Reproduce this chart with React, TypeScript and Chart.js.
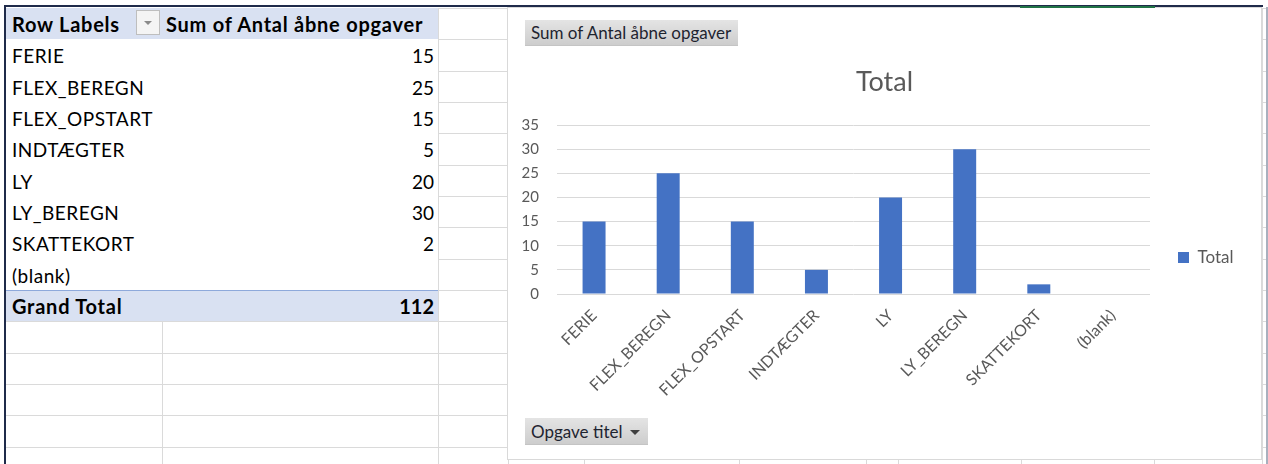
import React, { useEffect, useRef } from "react";
import { Chart, registerables } from "chart.js";

Chart.register(...registerables);

// Pivot data: open tasks per task title
const categories = [
  "FERIE",
  "FLEX_BEREGN",
  "FLEX_OPSTART",
  "INDTÆGTER",
  "LY",
  "LY_BEREGN",
  "SKATTEKORT",
  "(blank)",
];
const openTasks: (number | null)[] = [15, 25, 15, 5, 20, 30, 2, null];
const yTickValues = [0, 5, 10, 15, 20, 25, 30, 35];

const seriesName = "Total";
const chartTitle = "Total";
const valueFieldName = "Sum of Antal åbne opgaver";
const rowFieldName = "Opgave titel";
const rowLabelsHeader = "Row Labels";
const grandTotalLabel = "Grand Total";

const FONT = "Lato, 'Open Sans', sans-serif";
const AXIS_TEXT = "#595959";
const GRID = "#D9D9D9";
const BAR = "#4472C4";
const PIVOT_BLUE = "#D9E1F2";
const SHEET_LINE = "#DADADA";

// Sheet geometry
const ROW_H = 31.33;
const rowY = (i: number) => Math.round(8 + i * ROW_H);
const colLines = [162, 438, 508, 584, 739, 866, 898, 1021, 1154, 1262];

// Chart canvas geometry
const CANVAS_W = 753;
const CANVAS_H = 451;
const PLOT_LEFT = 49;
const PLOT_RIGHT = 642;
const X_AXIS_H = 165;
const LEGEND_FONT = 17;
const LEGEND_BOX = 11;
const LEGEND_PAD = 28;
const TITLE_SIZE = 27;

// Centre the chart title over the whole chart object rather than the area left of the legend
const fullWidthTitle = {
  id: "fullWidthTitle",
  afterLayout(chart: any) {
    const t = chart.titleBlock;
    if (t) {
      t.left = 0;
      t.right = chart.width;
      t.width = chart.width;
    }
  },
};

function BarChart() {
  const ref = useRef<HTMLCanvasElement | null>(null);

  useEffect(() => {
    const canvas = ref.current;
    if (!canvas) return;
    const ctx = canvas.getContext("2d")!;
    ctx.font = `${LEGEND_FONT}px ${FONT}`;
    const legendTextW = ctx.measureText(seriesName).width;
    const legendW = LEGEND_PAD + LEGEND_BOX + LEGEND_FONT / 2 + legendTextW + 10;
    const padRight = Math.max(0, CANVAS_W - PLOT_RIGHT - legendW);

    const chart = new Chart(canvas, {
      type: "bar",
      data: {
        labels: categories,
        datasets: [
          {
            label: seriesName,
            data: openTasks,
            backgroundColor: BAR,
            borderWidth: 0,
            barPercentage: 0.31,
            categoryPercentage: 1,
          },
        ],
      },
      options: {
        animation: false,
        responsive: false,
        maintainAspectRatio: false,
        devicePixelRatio: 1,
        layout: { padding: { left: 0, right: padRight, top: 0, bottom: 0 } },
        plugins: {
          title: {
            display: true,
            text: chartTitle,
            color: AXIS_TEXT,
            font: { family: FONT, size: TITLE_SIZE, weight: "normal" },
            padding: { top: 58, bottom: 26.6 },
          },
          legend: {
            position: "right",
            align: "end",
            fullSize: false,
            labels: {
              boxWidth: LEGEND_BOX,
              boxHeight: LEGEND_BOX,
              padding: LEGEND_PAD,
              color: AXIS_TEXT,
              font: { family: FONT, size: LEGEND_FONT },
            },
          },
          tooltip: { enabled: false },
        },
        scales: {
          x: {
            grid: { display: false },
            border: { display: false },
            ticks: {
              autoSkip: false,
              minRotation: 45,
              maxRotation: 45,
              padding: 4,
              color: AXIS_TEXT,
              font: { family: FONT, size: 16 },
            },
            afterFit: (scale: any) => {
              scale.height = X_AXIS_H;
            },
          },
          y: {
            min: yTickValues[0],
            max: yTickValues[yTickValues.length - 1],
            ticks: {
              stepSize: yTickValues[1] - yTickValues[0],
              padding: 18,
              color: AXIS_TEXT,
              font: { family: FONT, size: 15 },
            },
            grid: { color: GRID, lineWidth: 1, drawTicks: false },
            border: { display: false },
            afterFit: (scale: any) => {
              scale.width = PLOT_LEFT;
            },
          },
        },
      },
      plugins: [fullWidthTitle],
    });
    return () => chart.destroy();
  }, []);

  return (
    <canvas
      ref={ref}
      width={CANVAS_W}
      height={CANVAS_H}
      style={{ position: "absolute", left: 0, top: 0, width: CANVAS_W, height: CANVAS_H }}
    />
  );
}

function GrayButton({
  left,
  top,
  width,
  height,
  text,
  dropdown,
}: {
  left: number;
  top: number;
  width: number;
  height: number;
  text: string;
  dropdown?: boolean;
}) {
  return (
    <div
      style={{
        position: "absolute",
        left,
        top,
        width,
        height,
        boxSizing: "border-box",
        background: "linear-gradient(#E4E4E4, #CDCDCD)",
        borderBottom: "1px solid #C4C4C4",
        fontFamily: FONT,
        fontSize: 17,
        lineHeight: `${height}px`,
        color: "#1E2430",
        paddingLeft: 6,
        whiteSpace: "nowrap",
      }}
    >
      {text}
      {dropdown && (
        <span
          style={{
            position: "absolute",
            right: 8,
            top: Math.round(height / 2) - 2,
            width: 0,
            height: 0,
            borderLeft: "5px solid transparent",
            borderRight: "5px solid transparent",
            borderTop: "5px solid #3F3F3F",
          }}
        />
      )}
    </div>
  );
}

function PivotTable() {
  const total = openTasks.reduce<number>((s, v) => s + (v ?? 0), 0);
  const textStyle: React.CSSProperties = {
    position: "absolute",
    fontFamily: FONT,
    fontSize: 19,
    letterSpacing: 0.5,
    color: "#000",
    whiteSpace: "nowrap",
  };
  const boldStyle: React.CSSProperties = {
    ...textStyle,
    fontSize: 20,
    fontWeight: "bold",
    letterSpacing: 0.75,
  };
  const rowBox = (i: number): React.CSSProperties => ({
    position: "absolute",
    left: 6,
    width: 432,
    top: rowY(i),
    height: rowY(i + 1) - rowY(i),
    lineHeight: `${rowY(i + 1) - rowY(i) + 2}px`,
  });

  return (
    <>
      {/* header row */}
      <div style={{ ...rowBox(0), background: PIVOT_BLUE }}>
        <span style={{ ...boldStyle, left: 6 }}>{rowLabelsHeader}</span>
        <div
          style={{
            position: "absolute",
            left: 130,
            top: 2,
            width: 24,
            height: 25,
            boxSizing: "border-box",
            border: "1px solid #BEBEBE",
            background: "#F4F4F4",
          }}
        >
          <span
            style={{
              position: "absolute",
              left: 7,
              top: 10,
              width: 0,
              height: 0,
              borderLeft: "4px solid transparent",
              borderRight: "4px solid transparent",
              borderTop: "4px solid #8A8A8A",
            }}
          />
        </div>
        <span style={{ ...boldStyle, left: 160 }}>{valueFieldName}</span>
      </div>

      {/* category rows */}
      {categories.map((c, i) => (
        <div key={c} style={{ ...rowBox(i + 1), background: "#fff" }}>
          <span style={{ ...textStyle, left: 6 }}>{c}</span>
          {openTasks[i] !== null && (
            <span style={{ ...textStyle, right: 4, letterSpacing: 0 }}>{openTasks[i]}</span>
          )}
        </div>
      ))}

      {/* grand total */}
      <div
        style={{
          ...rowBox(categories.length + 1),
          background: PIVOT_BLUE,
          borderTop: "1px solid #8EA9DB",
          boxSizing: "border-box",
        }}
      >
        <span style={{ ...boldStyle, left: 6, top: -1 }}>{grandTotalLabel}</span>
        <span style={{ ...boldStyle, right: 4, top: -1, letterSpacing: 0 }}>{total}</span>
      </div>
    </>
  );
}

export default function App() {
  const rows = Array.from({ length: 16 }, (_, i) => rowY(i));
  return (
    <div
      style={{
        position: "relative",
        width: 1268,
        height: 464,
        overflow: "hidden",
        background: "#fff",
      }}
    >
      <style>{"body{margin:0}"}</style>

      {/* worksheet grid */}
      {rows.map((y) => (
        <div
          key={`r${y}`}
          style={{ position: "absolute", left: 6, top: y, width: 1262, height: 1, background: SHEET_LINE }}
        />
      ))}
      {colLines.map((x) => (
        <div
          key={`c${x}`}
          style={{ position: "absolute", left: x, top: 8, width: 1, height: 460, background: SHEET_LINE }}
        />
      ))}

      <PivotTable />

      {/* chart object */}
      <div
        style={{
          position: "absolute",
          left: 507,
          top: 7,
          width: 755,
          height: 453,
          boxSizing: "border-box",
          border: `1px solid ${GRID}`,
          background: "#fff",
        }}
      >
        <BarChart />
        <GrayButton left={17} top={12} width={213} height={26} text={valueFieldName} />
        <GrayButton left={17} top={410} width={123} height={27} text={rowFieldName} dropdown />
      </div>

      {/* window frame */}
      <div style={{ position: "absolute", left: 4, top: 5, width: 1259, height: 2, background: "#1F2B4A" }} />
      <div style={{ position: "absolute", left: 1020, top: 6, width: 135, height: 2, background: "#217346" }} />
      <div style={{ position: "absolute", left: 4, top: 5, width: 2, height: 459, background: "#1F2B4A" }} />
      <div style={{ position: "absolute", left: 1266, top: 7, width: 2, height: 457, background: "#A9B0BE" }} />
    </div>
  );
}
